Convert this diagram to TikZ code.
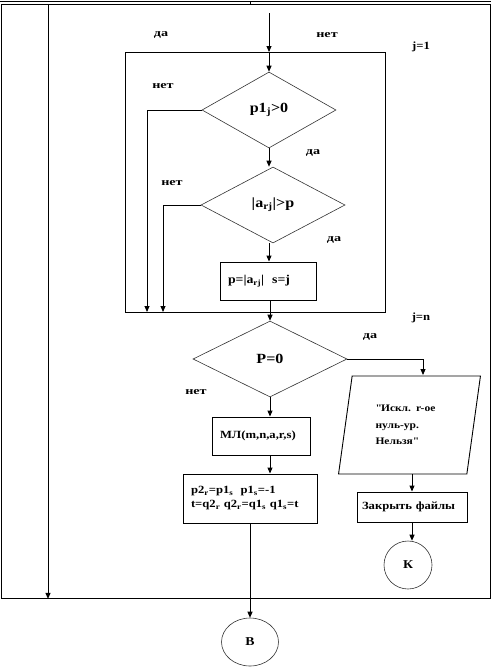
\documentclass[tikz,border=0pt]{standalone}
\usepackage{fontspec}
\setmainfont{Liberation Serif}[FakeStretch=1.15]
\newfontfamily\wideserif{Liberation Serif}[FakeStretch=1.35]
\usetikzlibrary{shapes.geometric,arrows.meta,calc}
\begin{document}
\begin{tikzpicture}[x=1pt,y=-1pt,line width=0.9pt,
  arr/.style={-{Triangle[length=6pt,width=5pt]}},
  box/.style={draw,rectangle,inner ysep=0,inner xsep=8pt,align=left,font=\bfseries\fontsize{11}{14}\selectfont},
  dia/.style={draw,diamond,inner sep=0,line width=0.6pt,draw=black!80,font=\bfseries\fontsize{14}{16}\selectfont},
  lbl/.style={inner sep=0,font=\wideserif\bfseries\fontsize{10.5}{11}\selectfont},
  jl/.style={inner sep=0,font=\bfseries\fontsize{11}{13}\selectfont},
  term/.style={draw,ellipse,inner sep=0,line width=0.6pt,draw=black!80,font=\bfseries\fontsize{12}{13}\selectfont}]
\useasboundingbox (0,0) rectangle (491,667);
% outer frame
\node[draw,anchor=north west,minimum width=489.5,minimum height=594,inner sep=0] (frame) at (0.5,4) {};
\draw (0,1) -- (491,1);
\draw (250,1) -- (250,4);
\coordinate (lt) at (48,4);
\draw[arr] (lt) -- (lt |- frame.south);
% loop
\node[draw,anchor=north west,minimum width=260,minimum height=260,inner sep=0] (loop) at (125,52) {};
\coordinate (in) at (269,13);
\coordinate (lin) at (269,52);
\node[dia,minimum width=134,minimum height=76] (d1) at (269,110) {p1\textsubscript{j}>0};
\node[dia,minimum width=144,minimum height=76] (d2) at (273,205) {|a\textsubscript{rj}|>p};
\node[box,text width=80,minimum height=38,font=\bfseries\fontsize{12}{14}\selectfont] (b1) at (268,281) {p=|a\textsubscript{rj}|\ \ s=j};
\node[dia,minimum width=154,minimum height=76] (d3) at (270,359) {P=0};
\node[box,text width=82,minimum height=38] (ml) at (261,436) {МЛ(m,n,a,r,s)};
\node[box,text width=118,inner xsep=8pt,minimum height=49] (p2) at (250,498.5)
  {p2\textsubscript{r}=p1\textsubscript{s}\ \ p1\textsubscript{s}=-1\\t=q2\textsubscript{r} q2\textsubscript{r}=q1\textsubscript{s} q1\textsubscript{s}=t};
\node[draw,trapezium,trapezium left angle=78.5,trapezium right angle=101.5,trapezium stretches=true,
  minimum width=143,minimum height=98,inner sep=0,align=left,text width=68,
  font=\bfseries\fontsize{10}{16.5}\selectfont] (par) at (409.5,425)
  {\textquotedbl Искл. r-ое\\нуль-ур.\\Нельзя\textquotedbl};
\node[box,text width=100,inner xsep=5pt,minimum height=30] (cl) at (412,507) {Закрыть файлы};
\node[term,circle,minimum size=48] (K) at (408,565) {К};
\node[term,minimum width=57,minimum height=48] (B) at (250,642) {В};
% labels
\node[lbl] at (161,35) {да};
\node[lbl] at (327,35) {нет};
\node[jl] at (421,47) {j=1};
\node[lbl] at (163,86) {нет};
\node[lbl] at (313,153) {да};
\node[lbl] at (172,183) {нет};
\node[lbl] at (334,240) {да};
\node[jl] at (421,318) {j=n};
\node[lbl] at (370,337) {да};
\node[lbl] at (196,392) {нет};
% connectors
\draw[arr] (in) -- (lin);
\draw[arr] (lin) -- (d1.north);
\draw[arr] (d1.south) -- (d1.south |- d2.north);
\draw[arr] (d1.south |- d2.south) -- (d1.south |- b1.north);
\coordinate (n1) at (147,312);
\coordinate (n2) at (163,312);
\draw[arr] (d1.west) -| (n1);
\draw[arr] (d2.west) -| (n2);
\draw[arr] (d3.north |- b1.south) -- (d3.north);
\draw[arr] (d3.south) -- (d3.south |- ml.north);
\coordinate (pt) at (423,375);
\draw[arr] (d3.east) -| (pt);
\draw[arr] (ml.south -| d3.south) -- (d3.south |- p2.north);
\draw[arr] (p2.south) -- (B.north);
\draw[arr] (cl.north |- par.south) -- (cl.north);
\draw[arr] (cl.south) -- (cl.south |- K.north);
\end{tikzpicture}
\end{document}
